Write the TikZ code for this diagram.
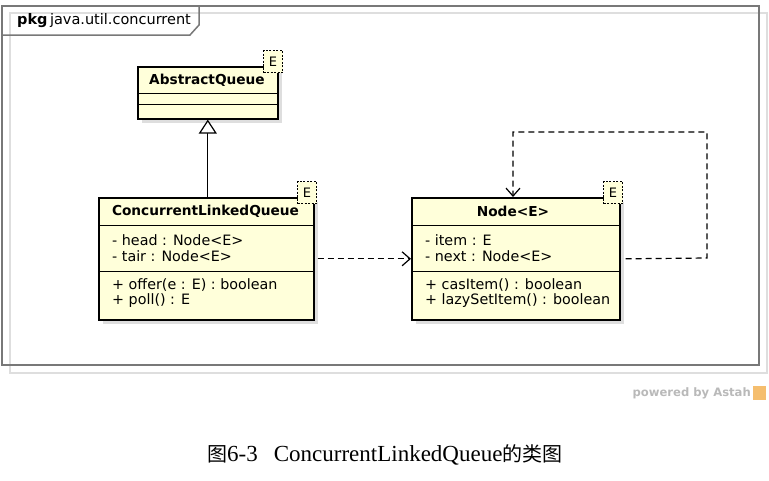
\documentclass[tikz,border=0pt]{standalone}
\usepackage{fontspec}
\setmainfont{Liberation Serif}
\newfontfamily\umlfont{DejaVu Sans}
\newfontfamily\cjk{Noto Sans CJK SC}
\usetikzlibrary{arrows.meta}
\definecolor{classfill}{RGB}{255,255,218}
\definecolor{framegray}{RGB}{120,120,120}
\definecolor{shadowgray}{RGB}{222,222,222}
\definecolor{astahgray}{RGB}{185,185,185}
\definecolor{astahorange}{RGB}{245,190,110}
\tikzset{
  classbox/.style={draw=black, line width=1.6pt, fill=classfill, anchor=north west, inner sep=0pt, rectangle},
  boxshadow/.style={fill=shadowgray, draw=none, anchor=north west, inner sep=0pt, rectangle},
  tparam/.style={draw=black, dash pattern=on 2pt off 1.5pt, line width=1pt, fill=classfill, anchor=north west,
    minimum width=19pt, minimum height=22pt, inner sep=0pt, font=\umlfont\fontsize{13}{13}\selectfont},
  classtitle/.style={font=\umlfont\bfseries\fontsize{13.7}{15}\selectfont, inner sep=0pt},
  member/.style={font=\umlfont\fontsize{14.3}{16}\selectfont, anchor=west, inner sep=0pt},
  sepline/.style={line width=1pt},
  dep/.style={line width=1.2pt, dash pattern=on 6pt off 4pt, -{Straight Barb[length=8pt,width=14pt]}},
  gen/.style={line width=1.2pt, -{Triangle[open, length=14pt, width=18pt, fill=white]}},
}
\begin{document}
\begin{tikzpicture}[x=1pt, y=-1pt]
\useasboundingbox (0,0) rectangle (769,480);
% package frame
\draw[shadowgray, line width=1.2pt] (10,13) rectangle (767,373);
\draw[framegray, line width=1.5pt] (2,6) rectangle (759,365);
\draw[framegray, line width=1.5pt] (2,35) -- (190,35) -- (199,25) -- (199,6);
\node[anchor=west, inner sep=0pt, font=\umlfont\fontsize{14.5}{16}\selectfont] (pkg) at (17,21) {\textbf{pkg}\,java.util.concurrent};

% shadows
\node[boxshadow, minimum width=140pt, minimum height=52pt] (aqs) at (142,71) {};
\node[boxshadow, minimum width=215pt, minimum height=122pt] (clqs) at (103,202) {};
\node[boxshadow, minimum width=208pt, minimum height=122pt] (nds) at (416,202) {};

% AbstractQueue
\node[classbox, minimum width=140pt, minimum height=52pt] (aq) at (137,66) {};
\draw[sepline] (137,93) -- (277,93);
\draw[sepline] (137,104) -- (277,104);
\node[classtitle] (aqt) at (207,80) {AbstractQueue};
\node[tparam] (aqe) at (263,50) {E};

% ConcurrentLinkedQueue
\node[classbox, minimum width=215pt, minimum height=122pt] (clq) at (98,197) {};
\draw[sepline] (98,225) -- (313,225);
\draw[sepline] (98,271) -- (313,271);
\node[classtitle] (clqt) at (205.5,211) {ConcurrentLinkedQueue};
\node[member] (clqa1) at (112,240) {- head : Node<E>};
\node[member] (clqa2) at (112,256) {- tair : Node<E>};
\node[member] (clqm1) at (112,285) {+ offer(e : E) : boolean};
\node[member] (clqm2) at (112,301) {+ poll() : E};
\node[tparam] (clqe) at (297,181) {E};

% Node<E>
\node[classbox, minimum width=208pt, minimum height=122pt] (nd) at (411,197) {};
\draw[sepline] (411,225) -- (619,225);
\draw[sepline] (411,271) -- (619,271);
\node[classtitle] (ndt) at (513,211) {Node<E>};
\node[member] (nda1) at (425,240) {- item : E};
\node[member] (nda2) at (425,256) {- next : Node<E>};
\node[member] (ndm1) at (425,285) {+ casItem() : boolean};
\node[member] (ndm2) at (425,301) {+ lazySetItem() : boolean};
\node[tparam] (nde) at (603,181) {E};

% connectors
\draw[gen] (clq.north -| aq.south) -- (aq.south);
\draw[dep] ([xshift=3pt]clq.east) -- (nd.west);
\coordinate (l1) at (707,258);
\coordinate (l2) at (707,132);
\coordinate (l3) at (513,132);
\draw[dep] ([xshift=5pt]nd.east) -- (l1) -- (l2) -- (l3) -- (l3 |- nd.north);

% powered by Astah
\node[anchor=east, inner sep=0pt, text=astahgray, font=\umlfont\bfseries\fontsize{11.6}{13}\selectfont] (astah) at (751,393) {powered by Astah};
\node[anchor=west, inner sep=0pt, fill=astahorange, minimum width=13pt, minimum height=14pt] (astahicon) at (753,393) {};

% caption
\node[anchor=base west, inner sep=0pt, font=\fontsize{23}{27}\selectfont] (cap) at (207,461)
  {{\cjk\fontsize{20}{25}\selectfont 图}6-3\hspace{16pt}ConcurrentLinkedQueue{\cjk\fontsize{20}{25}\selectfont 的类图}};
\end{tikzpicture}
\end{document}
